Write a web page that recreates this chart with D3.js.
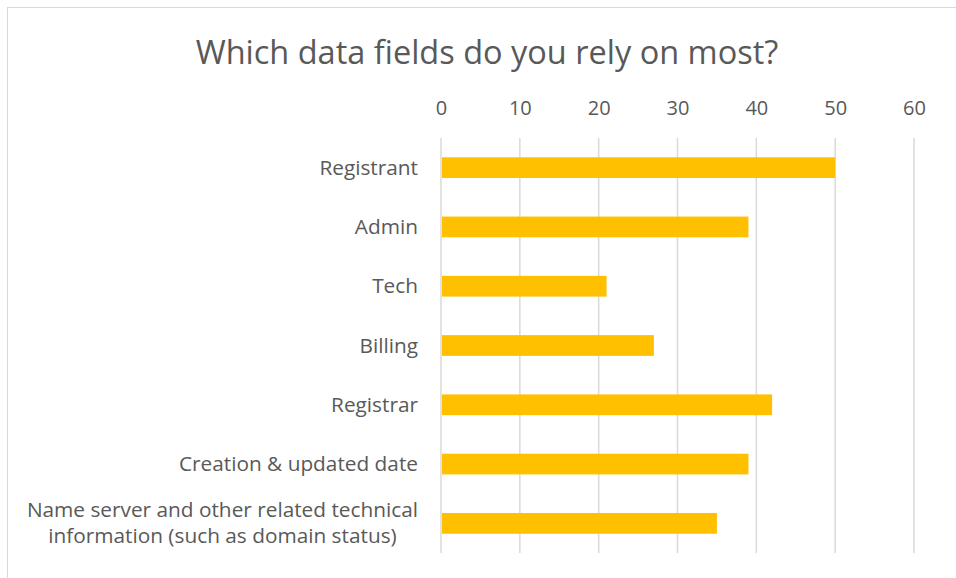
<!DOCTYPE html>
<html>
<head>
<meta charset="utf-8">
<script src="https://cdnjs.cloudflare.com/ajax/libs/d3/7.8.5/d3.min.js"></script>
<style>
  body { margin: 0; background: #fff; }
  text { font-family: "Open Sans", sans-serif; fill: #595959; }
</style>
</head>
<body>
<div class="chart"></div>
<script>
// chart data
var categories = [
  "Registrant",
  "Admin",
  "Tech",
  "Billing",
  "Registrar",
  "Creation & updated date",
  "Name server and other related technical|information (such as domain status)"
];
var counts = [50, 39, 21, 27, 42, 39, 35];
var tickValues = [0, 10, 20, 30, 40, 50, 60];

var svgWidth = 956;
var svgHeight = 578;

var margin = { top: 138, right: 42, bottom: 25, left: 441 };
var width = svgWidth - margin.left - margin.right;
var height = svgHeight - margin.top - margin.bottom;

var svg = d3.select(".chart")
  .append("svg")
  .attr("width", svgWidth)
  .attr("height", svgHeight);

// chart border (only top/left visible in the crop)
svg.append("rect")
  .attr("x", 7.5)
  .attr("y", 7.5)
  .attr("width", 1000)
  .attr("height", 1000)
  .attr("fill", "none")
  .attr("stroke", "#d9d9d9")
  .attr("stroke-width", 1);

svg.append("text")
  .attr("x", 487)
  .attr("y", 64)
  .attr("text-anchor", "middle")
  .style("font-size", "32.5px")
  .text("Which data fields do you rely on most?");

var chartGroup = svg.append("g")
  .attr("transform", `translate(${margin.left}, ${margin.top})`);

var xScale = d3.scaleLinear()
  .domain([0, 60])
  .range([0, width]);

var yScale = d3.scaleBand()
  .domain(categories)
  .range([0, height])
  .paddingInner(0.65)
  .paddingOuter(0.325);

// gridlines
chartGroup.append("g")
  .selectAll("line")
  .data(tickValues)
  .enter()
  .append("line")
  .attr("x1", d => xScale(d))
  .attr("x2", d => xScale(d))
  .attr("y1", 0)
  .attr("y2", height)
  .attr("stroke", "#d9d9d9")
  .attr("stroke-width", 1.5);

// top axis labels
var xAxis = d3.axisTop(xScale)
  .tickValues(tickValues)
  .tickSize(0)
  .tickPadding(0);

var xAxisGroup = chartGroup.append("g")
  .attr("transform", "translate(0, -23)")
  .call(xAxis);
xAxisGroup.select(".domain").remove();
xAxisGroup.selectAll("text")
  .attr("fill", "#595959")
  .style("font-size", "20px")
  .style("font-family", "'Open Sans', sans-serif");

// bars
chartGroup.selectAll("rect.bar")
  .data(categories)
  .enter()
  .append("rect")
  .attr("class", "bar")
  .attr("x", xScale(0) + 1)
  .attr("y", d => yScale(d))
  .attr("width", (d, i) => xScale(counts[i]) - xScale(0) - 1)
  .attr("height", yScale.bandwidth())
  .attr("fill", "#ffc000");

// category labels, multi-line split on "|"
// lines are centred on each other, the block is right aligned
var labelGap = 23;
var labels = chartGroup.selectAll("g.cat")
  .data(categories)
  .enter()
  .append("g")
  .attr("class", "cat");

labels.each(function(d) {
  var lines = d.split("|");
  var g = d3.select(this);
  var lineH = 26;
  var mid = yScale(d) + yScale.bandwidth() / 2;
  var first = mid - (lines.length - 1) * lineH / 2 + 7;
  var texts = lines.map(function(line, i) {
    return g.append("text")
      .style("font-size", "20.8px")
      .attr("y", first + i * lineH)
      .text(line);
  });
  var maxW = d3.max(texts, t => t.node().getComputedTextLength());
  texts.forEach(function(t) {
    t.attr("text-anchor", "middle")
      .attr("x", -labelGap - maxW / 2);
  });
});
</script>
</body>
</html>
